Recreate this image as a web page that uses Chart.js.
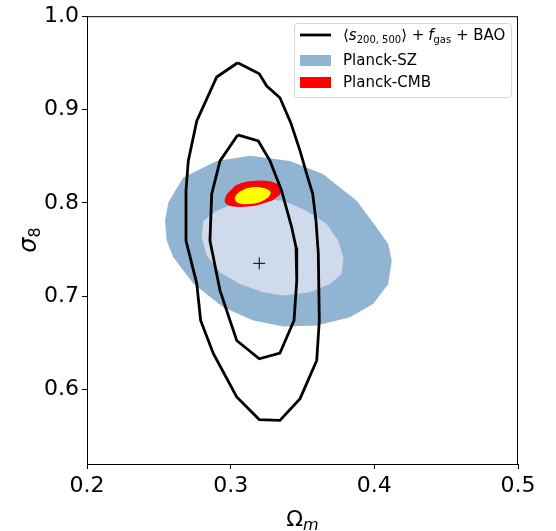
<!DOCTYPE html>
<html>
<head>
<meta charset="utf-8">
<script src="https://cdn.jsdelivr.net/npm/chart.js@4/dist/chart.umd.min.js"></script>
<style>
  html, body { margin: 0; padding: 0; background: #fff; }
  #wrap { width: 556px; height: 531px; }
</style>
</head>
<body>
<div id="wrap"><canvas id="chart" width="556" height="531"></canvas></div>
<script>
// axis ticks
const xTicks = [0.2, 0.3, 0.4, 0.5];
const yTicks = [0.6, 0.7, 0.8, 0.9, 1.0];

// <s200,500> + fgas + BAO, outer and inner contours (Omega_m, sigma_8)
const outerContour = [
    [0.3049, 0.9501], [0.3199, 0.9383], [0.3251, 0.9251], [0.3343, 0.9126],
    [0.3418, 0.8859], [0.3483, 0.8556], [0.3529, 0.8310], [0.3571, 0.8096],
    [0.3594, 0.7807], [0.3610, 0.7455], [0.3617, 0.6738], [0.3599, 0.6310],
    [0.3483, 0.5901], [0.3343, 0.5668], [0.3199, 0.5676], [0.3042, 0.5918],
    [0.2879, 0.6385], [0.2791, 0.6738], [0.2764, 0.7134], [0.2689, 0.7594],
    [0.2689, 0.8128], [0.2705, 0.8449], [0.2764, 0.8877], [0.2903, 0.9348],
    [0.3049, 0.9501]
];
const innerContour = [
    [0.3049, 0.8727], [0.3192, 0.8663], [0.3274, 0.8449], [0.3355, 0.8128],
    [0.3425, 0.7736], [0.3455, 0.7522], [0.3460, 0.7166], [0.3441, 0.6738],
    [0.3343, 0.6388], [0.3199, 0.6328], [0.3042, 0.6524], [0.2926, 0.7059],
    [0.2856, 0.7594], [0.2868, 0.8096], [0.2926, 0.8449], [0.3049, 0.8727]
];

// Planck-SZ 2 sigma and 1 sigma regions
const szOuter = [
    [0.2543, 0.7807], [0.2566, 0.8003], [0.2670, 0.8271], [0.2903, 0.8449],
    [0.3135, 0.8503], [0.3413, 0.8449], [0.3645, 0.8307], [0.3877, 0.8021],
    [0.4016, 0.7736], [0.4097, 0.7558], [0.4121, 0.7380], [0.4097, 0.7130],
    [0.3993, 0.6917], [0.3831, 0.6773], [0.3599, 0.6684], [0.3366, 0.6674],
    [0.3158, 0.6738], [0.2949, 0.6880], [0.2740, 0.7131], [0.2601, 0.7415],
    [0.2555, 0.7594], [0.2543, 0.7807]
];
const szInner = [
    [0.2798, 0.7629], [0.2810, 0.7807], [0.2903, 0.7914], [0.3042, 0.8003],
    [0.3204, 0.8040], [0.3366, 0.8021], [0.3529, 0.7914], [0.3668, 0.7772],
    [0.3749, 0.7594], [0.3784, 0.7415], [0.3773, 0.7237], [0.3691, 0.7130],
    [0.3552, 0.7041], [0.3366, 0.7005], [0.3227, 0.7041], [0.3065, 0.7130],
    [0.2926, 0.7255], [0.2833, 0.7433], [0.2798, 0.7629]
];

// Planck-CMB 2 sigma (red) and 1 sigma (yellow)
const cmbOuter = [
    [0.2958, 0.8032], [0.2972, 0.8092], [0.3004, 0.8139], [0.3032, 0.8186],
    [0.3074, 0.8211], [0.3118, 0.8228], [0.3167, 0.8235], [0.3225, 0.8240],
    [0.3283, 0.8228], [0.3332, 0.8200], [0.3357, 0.8150], [0.3352, 0.8105],
    [0.3329, 0.8067], [0.3289, 0.8025], [0.3237, 0.7997], [0.3180, 0.7972],
    [0.3121, 0.7960], [0.3068, 0.7955], [0.3016, 0.7960], [0.2990, 0.7968],
    [0.2970, 0.7986], [0.2958, 0.8008], [0.2958, 0.8032]
];
const cmbInner = [
    [0.3028, 0.8050], [0.3040, 0.8090], [0.3063, 0.8121], [0.3105, 0.8152],
    [0.3155, 0.8168], [0.3197, 0.8170], [0.3237, 0.8157], [0.3264, 0.8140],
    [0.3279, 0.8114], [0.3275, 0.8085], [0.3260, 0.8057], [0.3235, 0.8030],
    [0.3202, 0.8007], [0.3167, 0.7992], [0.3132, 0.7986], [0.3090, 0.7985],
    [0.3051, 0.7997], [0.3033, 0.8020], [0.3028, 0.8050]
];

// best fit marker
const bestFit = [[0.3199, 0.7351]];

const toXY = arr => arr.map(p => ({ x: p[0], y: p[1] }));

function region(data, color, order) {
    return {
        data: toXY(data),
        showLine: true,
        fill: 'shape',
        backgroundColor: color,
        borderColor: color,
        borderWidth: 0,
        pointRadius: 0,
        tension: 0,
        order: order
    };
}
function contour(data) {
    return {
        data: toXY(data),
        showLine: true,
        fill: false,
        borderColor: '#000',
        borderWidth: 2.8,
        pointRadius: 0,
        tension: 0,
        order: 1
    };
}

const FONT = '"DejaVu Sans", sans-serif';

// frame, axis titles and the legend
const extras = {
    id: 'extras',
    afterDraw(chart) {
        const ctx = chart.ctx;
        const a = chart.chartArea;
        ctx.save();
        ctx.strokeStyle = '#000';
        ctx.lineWidth = 1;
        ctx.strokeRect(a.left + 0.5, a.top + 0.5, a.right - a.left - 1, a.bottom - a.top);

        ctx.fillStyle = '#000';
        ctx.textBaseline = 'alphabetic';
        // x title
        ctx.font = '22px ' + FONT;
        let w1 = ctx.measureText('Ω').width;
        ctx.font = 'italic 16px ' + FONT;
        let w2 = ctx.measureText('m').width;
        let cx = (a.left + a.right) / 2 - (w1 + w2) / 2;
        ctx.font = '22px ' + FONT;
        ctx.fillText('Ω', cx, 526);
        ctx.font = 'italic 16px ' + FONT;
        ctx.fillText('m', cx + w1, 530);

        // y title
        ctx.translate(36, (a.top + a.bottom) / 2);
        ctx.rotate(-Math.PI / 2);
        ctx.font = 'italic 24px ' + FONT;
        w1 = ctx.measureText('σ').width;
        ctx.font = '16px ' + FONT;
        w2 = ctx.measureText('8').width;
        cx = -(w1 + w2) / 2;
        ctx.font = 'italic 24px ' + FONT;
        ctx.fillText('σ', cx, 0);
        ctx.font = '16px ' + FONT;
        ctx.fillText('8', cx + w1, 4);
        ctx.restore();

        // legend
        ctx.save();
        const lx = 294, ly = 23, lw = 217, lh = 74;
        ctx.beginPath();
        ctx.roundRect(lx + 0.5, ly + 0.5, lw, lh, 3);
        ctx.fillStyle = 'rgba(255,255,255,0.8)';
        ctx.fill();
        ctx.strokeStyle = '#d6d6d6';
        ctx.lineWidth = 1;
        ctx.stroke();

        ctx.strokeStyle = '#000';
        ctx.lineWidth = 2.8;
        ctx.beginPath();
        ctx.moveTo(300, 35);
        ctx.lineTo(331, 35);
        ctx.stroke();
        ctx.fillStyle = '#92b4d3';
        ctx.fillRect(300, 55, 31, 11);
        ctx.fillStyle = '#ff0000';
        ctx.fillRect(300, 77, 31, 11);

        ctx.fillStyle = '#000';
        ctx.textBaseline = 'middle';
        const big = '15px ' + FONT, bigI = 'italic 15px ' + FONT, small = '10px ' + FONT;
        let x = 343;
        const parts = [
            ['⟨', big, 0], ['s', bigI, 0], ['200, 500', small, 4], ['⟩', big, 0], [' + ', big, 0],
            ['f', bigI, 0], ['gas', small, 4], [' + BAO', big, 0]
        ];
        for (const [t, f, dy] of parts) {
            ctx.font = f;
            ctx.fillText(t, x, 36 + dy);
            x += ctx.measureText(t).width - (t === ' + ' ? 1 : 0);
        }
        ctx.font = big;
        ctx.fillText('Planck-SZ', 343, 61);
        ctx.fillText('Planck-CMB', 343, 83);
        ctx.restore();
    }
};

new Chart(document.getElementById('chart'), {
    type: 'scatter',
    data: {
        datasets: [
            region(szOuter, '#92b4d3', 6),
            region(szInner, '#cfdbea', 5),
            region(cmbOuter, '#ff0000', 4),
            region(cmbInner, '#ffff00', 3),
            contour(outerContour),
            contour(innerContour),
            {
                data: toXY(bestFit),
                pointStyle: 'cross',
                pointRadius: 6,
                borderColor: '#000',
                borderWidth: 1,
                order: 0
            }
        ]
    },
    options: {
        responsive: false,
        animation: false,
        layout: { padding: { top: 15, right: 38, left: 0, bottom: 0 } },
        plugins: { legend: { display: false }, tooltip: { enabled: false } },
        scales: {
            x: {
                type: 'linear',
                min: 0.2,
                max: 0.5,
                afterBuildTicks: s => { s.ticks = xTicks.map(v => ({ value: v })); },
                afterFit: s => { s.height = 67; },
                grid: { display: true, drawOnChartArea: false, drawTicks: true, tickLength: 5, color: '#000' },
                border: { display: true, color: '#000' },
                ticks: {
                    color: '#000',
                    font: { family: FONT, size: 22 },
                    padding: 4,
                    maxRotation: 0,
                    callback: v => v.toFixed(1)
                }
            },
            y: {
                type: 'linear',
                min: 0.52,
                max: 1.0,
                afterBuildTicks: s => { s.ticks = yTicks.map(v => ({ value: v })); },
                afterFit: s => { s.width = 87; },
                grid: { display: true, drawOnChartArea: false, drawTicks: true, tickLength: 5, color: '#000' },
                border: { display: true, color: '#000' },
                ticks: {
                    color: '#000',
                    font: { family: FONT, size: 22 },
                    padding: 3,
                    callback: v => v.toFixed(1)
                }
            }
        }
    },
    plugins: [extras]
});
</script>
</body>
</html>
